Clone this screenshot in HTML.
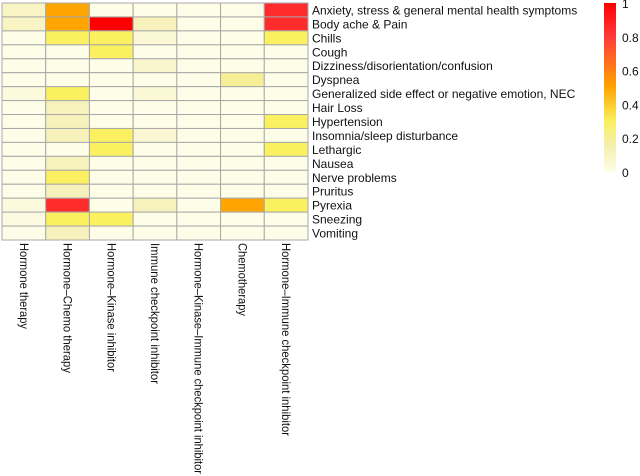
<!DOCTYPE html>
<html><head><meta charset="utf-8"><style>
body{margin:0;background:#fff;width:640px;height:476px;overflow:hidden}
svg{display:block;font-family:"Liberation Sans",sans-serif}
</style></head><body>
<svg id="chart" width="640" height="476">
<defs><linearGradient id="cb" x1="0" y1="1" x2="0" y2="0">
<stop offset="0" stop-color="#fdfde8"/><stop offset="0.15" stop-color="#f5efb0"/><stop offset="0.3" stop-color="#faf060"/><stop offset="0.5" stop-color="#ffa500"/><stop offset="0.8" stop-color="#ff3a3a"/><stop offset="1" stop-color="#ff0000"/>
</linearGradient></defs>
<g id="cells"></g><g id="rowlabels"></g><g id="collabels"></g>
<rect x="604" y="3" width="12" height="169" fill="url(#cb)"/>
<g id="cbticks"></g>
</svg>
<script>
const rows=["Anxiety, stress & general mental health symptoms","Body ache & Pain","Chills","Cough","Dizziness/disorientation/confusion","Dyspnea","Generalized side effect or negative emotion, NEC","Hair Loss","Hypertension","Insomnia/sleep disturbance","Lethargic","Nausea","Nerve problems","Pruritus","Pyrexia","Sneezing","Vomiting"];
const cols=["Hormone therapy","Hormone\u2013Chemo therapy","Hormone\u2013Kinase inhibitor","Immune checkpoint inhibitor","Hormone\u2013Kinase\u2013Immune checkpoint inhibitor","Chemotherapy","Hormone\u2013Immune checkpoint inhibitor"];
const colLens=[86,130,129,141,231,73,193];
const values=[
[0.1,0.5,0,0,0,0,0.85],
[0.1,0.5,1.0,0.12,0,0,0.85],
[0,0.3,0.3,0.05,0,0,0.3],
[0,0,0.3,0,0,0,0],
[0,0,0,0.07,0,0,0],
[0,0,0,0,0,0.2,0],
[0.03,0.3,0,0.05,0,0,0],
[0,0.12,0,0,0,0,0],
[0,0.12,0,0,0,0,0.3],
[0,0.12,0.3,0.06,0,0,0],
[0,0,0.3,0,0,0,0.3],
[0,0.12,0,0,0,0,0],
[0,0.3,0,0,0,0,0],
[0,0.12,0,0,0,0,0],
[0.03,0.85,0,0.12,0,0.5,0.3],
[0.02,0.3,0.3,0,0,0,0],
[0,0.12,0,0,0,0,0]];
const ticks=[0,0.2,0.4,0.6,0.8,1];
const stops=[[0,[253,253,232]],[0.15,[245,239,176]],[0.3,[250,240,96]],[0.5,[255,165,0]],[0.8,[255,58,58]],[1,[255,0,0]]];
function color(v){for(let i=1;i<stops.length;i++){if(v<=stops[i][0]){const a=stops[i-1],b=stops[i],t=(v-a[0])/(b[0]-a[0]);return 'rgb('+a[1].map((c,k)=>Math.round(c+(b[1][k]-c)*t)).join(',')+')';}}return 'rgb(255,0,0)';}
const X0=2,X1=308,Y0=3,Y1=240;
const cw=(X1-X0)/cols.length,rh=(Y1-Y0)/rows.length;
const xs=i=>X0+i*cw, ys=j=>Y0+j*rh;
const NS="http://www.w3.org/2000/svg";
function mk(t,a,p){const e=document.createElementNS(NS,t);for(const k in a)e.setAttribute(k,a[k]);p.appendChild(e);return e;}
const cg=document.getElementById('cells');
values.forEach((r,j)=>r.forEach((v,i)=>{
 const e=mk('rect',{x:xs(i),y:ys(j),width:cw,height:rh,fill:color(v),stroke:'#a8a8a8','stroke-width':1},cg);
 
 
}));
const rg=document.getElementById('rowlabels');
rows.forEach((r,j)=>{
 const t=mk('text',{x:312,y:ys(j)+rh/2+4.5,'font-size':12,fill:'#111'},rg);t.textContent=r;
 
 
});
const lg=document.getElementById('collabels');
cols.forEach((c,i)=>{
 const cx=xs(i)+cw/2-4;
 const t=mk('text',{x:0,y:0,'font-size':12,fill:'#111',textLength:colLens[i],lengthAdjust:'spacingAndGlyphs',transform:'translate('+cx+',243) rotate(90)'},lg);t.textContent=c;
 
 
});
const tg=document.getElementById('cbticks');
ticks.forEach(v=>{
 const t=mk('text',{x:622,y:172-v*169+5,'font-size':12,fill:'#111'},tg);t.textContent=String(v);
 
 
});
</script>
</body></html>
